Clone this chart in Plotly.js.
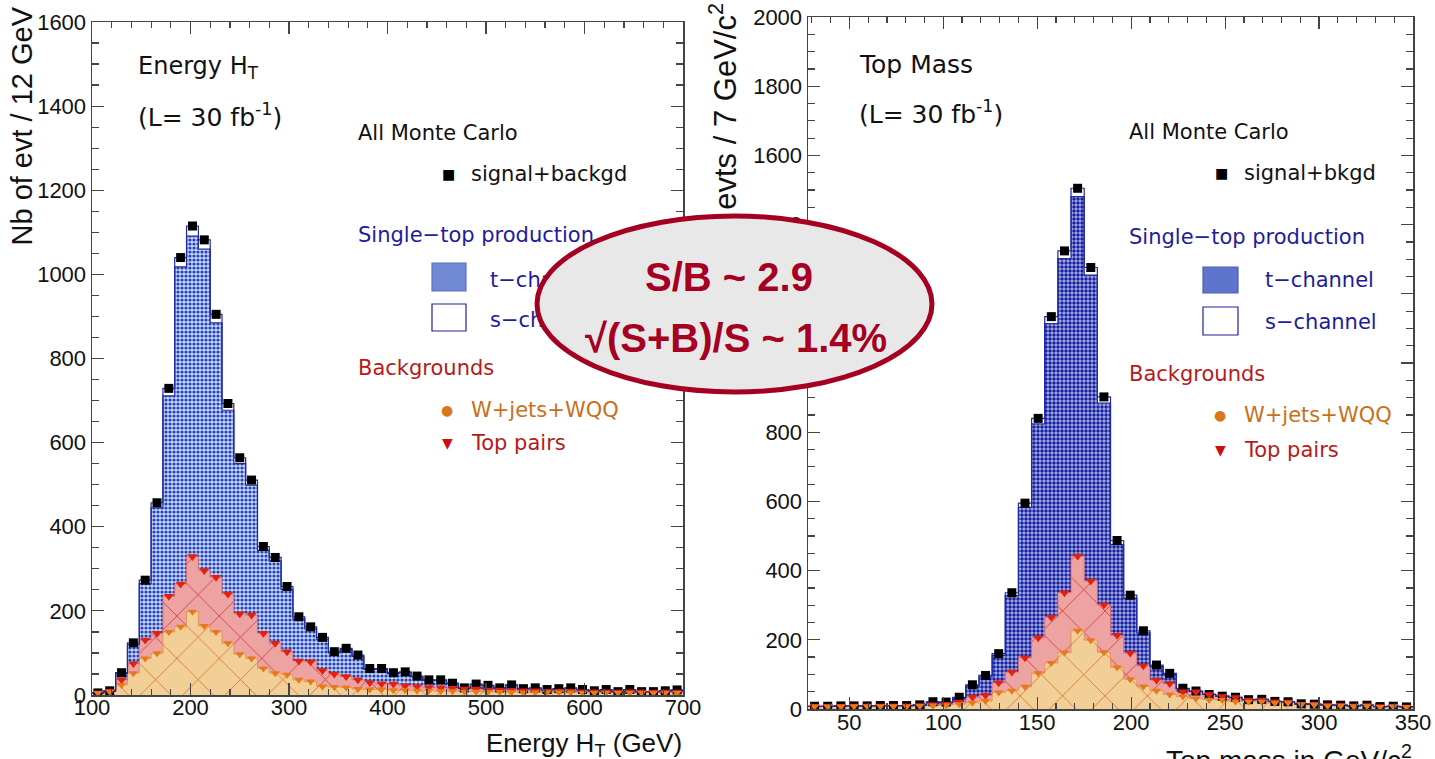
<!DOCTYPE html>
<html><head><meta charset="utf-8">
<script src="https://cdn.plot.ly/plotly-3.0.1.min.js"></script>
<style>html,body{margin:0;padding:0;background:#fff;overflow:hidden}#chart{width:1435px;height:759px}</style>
</head><body><div id="chart"></div>
<script>
// ---------------- DATA ----------------
// Left: Energy H_T, 12 GeV bins (bin centres)
const htCenters = [106,118,130,142,154,166,178,190,202,214,226,238,250,262,274,286,298,310,322,334,
  346,358,370,382,394,406,418,430,442,454,466,478,490,502,514,526,538,550,562,574,
  586,598,610,622,634,646,658,670,682,694];
const htTotal = [5,10,53,124,273,457,729,1040,1115,1082, 905,693,564,511,353,327,258,186,162,137,
  103,111,95,63,63,53,55,45,36,36, 28,17,26,23,17,24,15,17,13,15, 17,13,10,13,8,13,8,8,10,12];
const htWTop = [5,9,36,75,131,147,235,264,329,296, 280,240,193,190,147,123,103,81,79,58,
  50,44,36,30,27,26,22,20,18,17, 16,14,14,12,12,11,10,10,9,9, 9,8,8,8,7,8,7,7,7,7];
const htWjets = [5,8,24,52,87,99,150,162,198,164, 150,123,97,87,63,52,48,36,32,20,
  19,18,14,13,13,11,11,10,10,9, 9,8,8,7,7,7,6,6,6,6, 6,5,5,5,5,5,5,5,5,5];
const htSchan = [0,0,2,4,8,12,18,22,24,22, 20,16,14,12,9,8,7,5,5,4,
  3,3,3,2,2,2,2,2,1,1, 1,1,1,1,1,1,1,1,1,1, 1,1,0,1,0,1,0,0,0,1];

// Right: Top mass, 7 GeV/c2 bins (bin centres)
const mCenters = [31.5,38.5,45.5,52.5,59.5,66.5,73.5,80.5,87.5,94.5,101.5,108.5,115.5,122.5,129.5,136.5,
  143.5,150.5,157.5,164.5,171.5,178.5,185.5,192.5,199.5,206.5,213.5,220.5,227.5,234.5,241.5,248.5,
  255.5,262.5,269.5,276.5,283.5,290.5,297.5,304.5,311.5,318.5,325.5,332.5,339.5,346.5];
const mTotal = [8,8,9,9,9,10,10,10,12,21, 20,34,70,97,160,336,595,840,1134,1324,
  1505,1276,902,487,329,226,127,103,60,52, 42,37,34,27,28,22,21,15,14,12, 11,9,11,7,8,6];
const mWTop = [8,8,8,9,9,9,9,9,10,12, 14,20,35,40,76,107,148,206,265,336,
  442,370,301,213,162,125,84,74,50,50, 42,36,33,26,26,21,20,14,14,11, 11,9,10,7,8,6];
const mWjets = [7,7,7,8,8,8,8,8,9,10, 11,14,18,23,48,53,64,103,133,163,
  226,199,164,120,86,65,53,42,36,30, 27,26,22,21,21,17,18,13,12,9, 9,8,9,6,7,6];
const mSchan = [0,0,0,0,0,0,0,0,0,1, 1,2,3,4,5,8,12,16,20,22,
  24,22,18,12,8,6,4,3,2,1, 0,0,0,0,0,0,0,0,0,0, 0,0,0,0,0,0];

// ---------------- HELPERS ----------------
const W = 1435, H = 759;
const px = x => x / W, py = y => 1 - y / H;
const FIN = 'DejaVu Sans, Verdana, sans-serif';
const FAX = 'Liberation Sans, Arial, sans-serif';
const BLUE_T = '#1c1c9c', RED_T = '#b51a1a', ORG_T = '#c8701c', MAROON = '#a50021';

function stepX(c) { const w = c[1] - c[0]; const x = c.map(v => v - w / 2); x.push(c[c.length - 1] + w / 2); return x; }
function stepY(v) { const y = v.slice(); y.push(v[v.length - 1]); return y; }

function histTraces(cen, total, wtop, wj, sch, xa, ya, blueFg, blueBg, blueSol) {
  const xs = stepX(cen);
  const tstack = total.map((t, i) => t - sch[i]);
  const base = { type: 'scatter', mode: 'lines', xaxis: xa, yaxis: ya, hoverinfo: 'skip', x: xs };
  return [
    Object.assign({}, base, { y: stepY(wj), fill: 'tozeroy', line: { shape: 'hv', width: 0.8, color: '#e08a3a' },
      fillpattern: { shape: 'x', bgcolor: '#f3cf98', fgcolor: '#cf6a2a', size: 30, solidity: 0.05 } }),
    Object.assign({}, base, { y: stepY(wtop), fill: 'tonexty', line: { shape: 'hv', width: 0.8, color: '#e06060' },
      fillpattern: { shape: 'x', bgcolor: '#eea3a3', fgcolor: '#c8302a', size: 30, solidity: 0.05 } }),
    Object.assign({}, base, { y: stepY(tstack), fill: 'tonexty', line: { shape: 'hv', width: 1.2, color: '#1f2aa6' },
      fillpattern: { shape: '.', bgcolor: blueBg, fgcolor: blueFg, size: 4, solidity: blueSol } }),
    Object.assign({}, base, { y: stepY(total), fill: 'tonexty', fillcolor: '#ffffff', line: { shape: 'hv', width: 1.2, color: '#1f2aa6' } }),
    { type: 'scatter', mode: 'markers', xaxis: xa, yaxis: ya, x: cen, y: total, hoverinfo: 'skip',
      marker: { symbol: 'square', size: 9, color: '#000' } },
    { type: 'scatter', mode: 'markers', xaxis: xa, yaxis: ya, x: cen, y: wtop, hoverinfo: 'skip',
      marker: { symbol: 'triangle-down', size: 9, color: '#e3200f' } },
    { type: 'scatter', mode: 'markers', xaxis: xa, yaxis: ya, x: cen, y: wj, hoverinfo: 'skip',
      marker: { symbol: 'triangle-down', size: 8, color: '#e5791c' } }
  ];
}

const data = [].concat(
  histTraces(htCenters, htTotal, htWTop, htWjets, htSchan, 'x', 'y', '#2443b8', '#c9d6f4', 0.5),
  histTraces(mCenters, mTotal, mWTop, mWjets, mSchan, 'x2', 'y2', '#1a22a0', '#aab2e8', 0.6)
);

function axis(extra) {
  return Object.assign({
    showline: true, linecolor: '#444', linewidth: 1.5, mirror: 'allticks',
    ticks: 'inside', tickcolor: '#444', tickwidth: 1.2, ticklen: 12,
    showgrid: false, zeroline: false, fixedrange: true,
    tickfont: { family: FAX, size: 22, color: '#111' }
  }, extra);
}

function ann(text, x, y, size, color, extra) {
  return Object.assign({ text: text, x: px(x), y: py(y), xref: 'paper', yref: 'paper', xanchor: 'left', yanchor: 'middle',
    showarrow: false, font: { family: FIN, size: size, color: color } }, extra || {});
}
function mark(sym, x, y, color) { return ann(sym, x, y, 14, color, { xanchor: 'center' }); }

function labelRect(text, x, yc, size, color) {
  return { type: 'rect', xref: 'paper', yref: 'paper', x0: px(x - 3), x1: px(x + 220), y0: py(yc + 12), y1: py(yc - 12),
    line: { width: 0 }, fillcolor: 'rgba(0,0,0,0)', layer: 'above',
    label: { text: text, textposition: 'middle left', padding: 0, font: { family: FIN, size: size, color: color } } };
}
function box(x0, x1, y0, y1, fill, lc) {
  return { type: 'rect', xref: 'paper', yref: 'paper', x0: px(x0), x1: px(x1), y0: py(y1), y1: py(y0),
    fillcolor: fill, line: { color: lc, width: 1.2 }, layer: 'above' };
}

const layout = {
  width: W, height: H, autosize: false, margin: { l: 0, r: 0, t: 0, b: 0 },
  paper_bgcolor: '#fff', plot_bgcolor: '#fff', showlegend: false, hovermode: false,
  xaxis: axis({ domain: [px(92), px(683)], range: [100, 700], anchor: 'y', tick0: 100, dtick: 100, ticklabelstandoff: -8,
    minor: { dtick: 20, ticks: 'inside', ticklen: 6, tickcolor: '#444', showgrid: false } }),
  yaxis: axis({ domain: [py(695), py(22)], range: [0, 1600], anchor: 'x', dtick: 200,
    minor: { dtick: 50, ticks: 'inside', ticklen: 7, tickcolor: '#444', showgrid: false } }),
  xaxis2: axis({ domain: [px(808), px(1413)], range: [28, 350], anchor: 'y2', tick0: 0, dtick: 50, ticklabelstandoff: -7,
    minor: { dtick: 10, ticks: 'inside', ticklen: 6, tickcolor: '#444', showgrid: false } }),
  yaxis2: axis({ domain: [py(709), py(17)], range: [0, 2000], anchor: 'x2', dtick: 200,
    minor: { dtick: 50, ticks: 'inside', ticklen: 7, tickcolor: '#444', showgrid: false } }),
  shapes: [
    box(432, 466, 263, 291, '#7189d4', '#5a70c8'),
    box(432, 466, 304, 331, '#ffffff', '#2020a0'),
    box(1203, 1238, 267, 293, '#5f75cc', '#4a5cc0'),
    box(1203, 1238, 307, 335, '#ffffff', '#2020a0'),
    labelRect('t−channel', 490, 278, 21, BLUE_T),
    labelRect('s−channel', 490, 318, 21, BLUE_T),
    { type: 'rect', xref: 'paper', yref: 'paper', x0: px(700), x1: px(728), y0: py(6), y1: py(0),
      line: { width: 0 }, fillcolor: 'rgba(0,0,0,0)', layer: 'above',
      label: { text: 'Nb of evts / 7 GeV/c<sup>2</sup>', textposition: 'middle right', textangle: -90, padding: 0,
        font: { family: FAX, size: 31, color: '#111' } } },
    { type: 'circle', xref: 'paper', yref: 'paper', x0: px(537), x1: px(932), y0: py(392), y1: py(216),
      fillcolor: '#e8e8e8', line: { color: MAROON, width: 5 }, layer: 'above' }
  ],
  annotations: [
    // left panel texts
    ann('Energy H<sub>T</sub>', 136, 67, 24, '#111'),
    ann('(L= 30 fb<sup>-1</sup>)', 136, 116, 25, '#111'),
    ann('All Monte Carlo', 356, 133, 21, '#111'),
    mark('■', 448, 174, '#000'),
    ann('signal+backgd', 469, 174, 21, '#111'),
    ann('Single−top production', 356, 235, 21, BLUE_T),
    ann('Backgrounds', 356, 368, 21, RED_T),
    mark('●', 447, 410, '#d9771f'),
    ann('W+jets+WQQ', 469, 410, 21, ORG_T),
    mark('▼', 447, 443, '#cc1010'),
    ann('Top pairs', 469, 443, 21, RED_T),
    // right panel texts
    ann('Top Mass', 857, 64, 25, '#111'),
    ann('(L= 30 fb<sup>-1</sup>)', 857, 113, 25, '#111'),
    ann('All Monte Carlo', 1127, 132, 21, '#111'),
    mark('■', 1221, 173, '#000'),
    ann('signal+bkgd', 1242, 173, 21, '#111'),
    ann('Single−top production', 1127, 237, 21, BLUE_T),
    ann('t−channel', 1263, 280, 21, BLUE_T),
    ann('s−channel', 1263, 322, 21, BLUE_T),
    ann('Backgrounds', 1127, 374, 21, RED_T),
    mark('●', 1220, 415, '#d9771f'),
    ann('W+jets+WQQ', 1242, 415, 21, ORG_T),
    mark('▼', 1220, 450, '#cc1010'),
    ann('Top pairs', 1242, 450, 21, RED_T),
    // axis titles
    ann('Nb of evt / 12 GeV', 21, 5, 29, '#111', { font: { family: FAX, size: 29, color: '#111' }, textangle: -90, xanchor: 'center', yanchor: 'top' }),
    ann('Energy H<sub>T</sub> (GeV)', 684, 744, 26, '#111', { font: { family: FAX, size: 26, color: '#111' }, xanchor: 'right' }),
    ann('Top mass in GeV/c<sup>2</sup>', 1414, 758, 28, '#111', { font: { family: FAX, size: 28, color: '#111' }, xanchor: 'right' }),
    // ellipse texts
    ann('S/B ~ 2.9', 729, 277, 40, MAROON, { font: { family: FAX, size: 40, color: MAROON, weight: 700 }, xanchor: 'center' }),
    ann('√(S+B)/S ~ 1.4%', 736, 338, 40, MAROON, { font: { family: FAX, size: 40, color: MAROON, weight: 700 }, xanchor: 'center' })
  ]
};

Plotly.newPlot('chart', data, layout, { staticPlot: true, displayModeBar: false });
</script>
</body></html>
